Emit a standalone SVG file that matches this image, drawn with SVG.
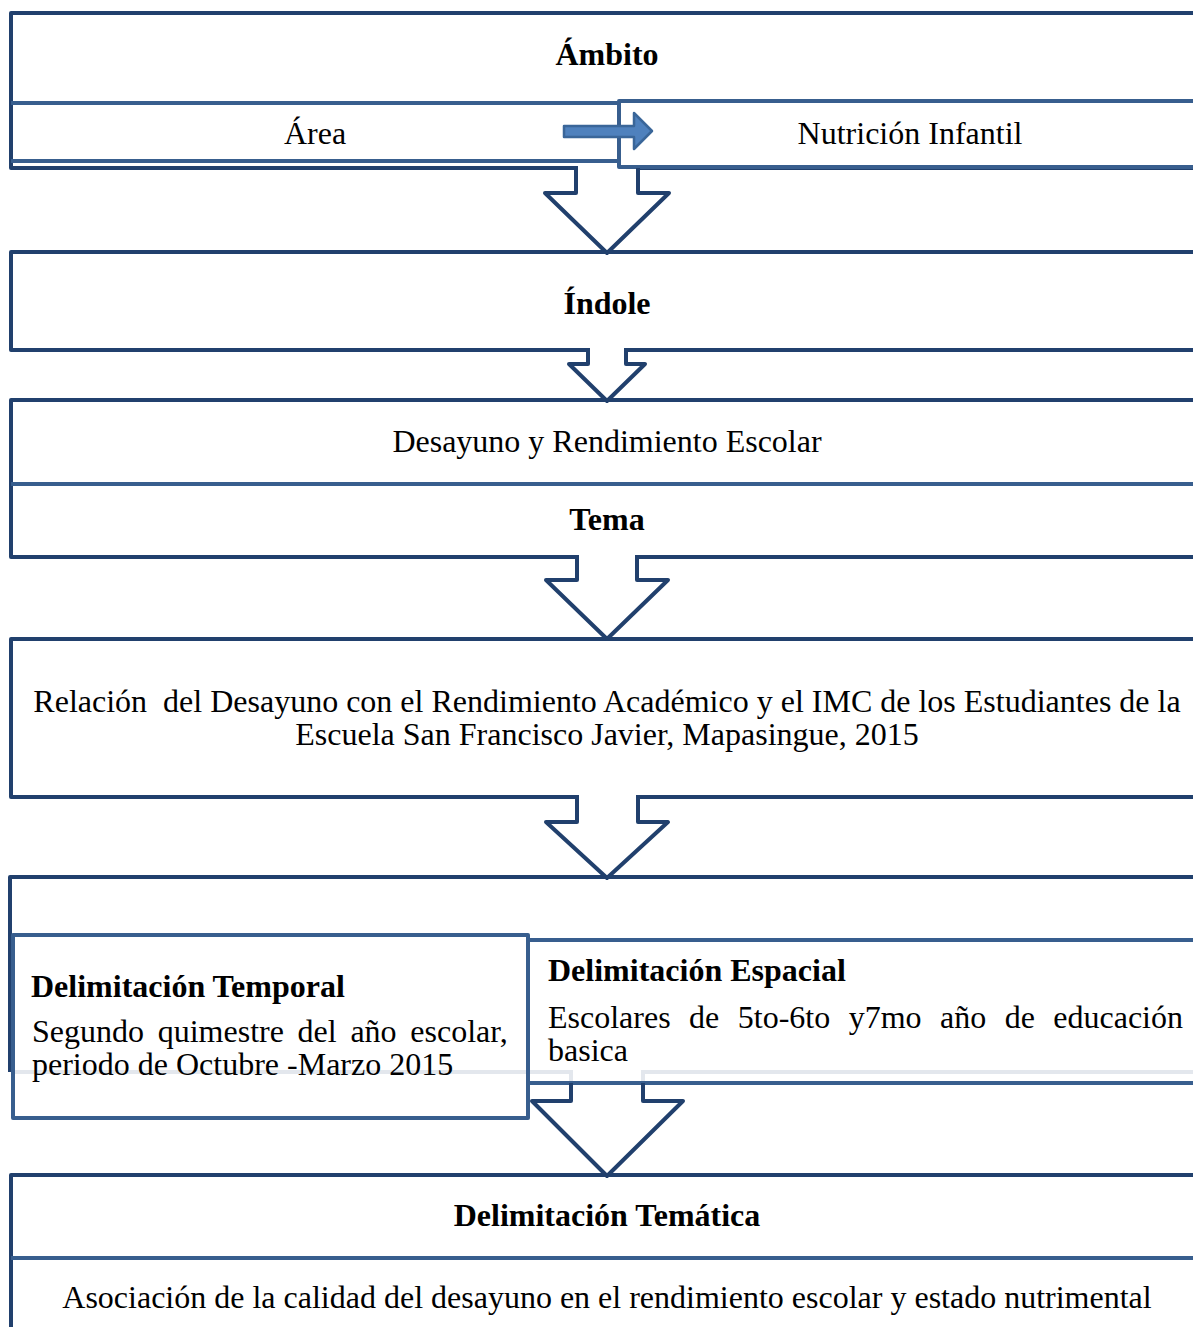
<svg xmlns="http://www.w3.org/2000/svg" width="1193" height="1327" viewBox="0 0 1193 1327">
<style>
.bx{fill:none;stroke:#21406d;stroke-width:4;stroke-linejoin:round;stroke-linecap:square}
.md{fill:none;stroke:#385e8e;stroke-width:4;stroke-linejoin:round}
.ar{fill:none;stroke:#21406d;stroke-width:4;stroke-linejoin:round}
.gh{fill:none;stroke:#e3e7ed;stroke-width:4}
text{font-family:"Liberation Serif","Times New Roman",serif;font-size:32px;fill:#000}
.b{font-weight:bold}
.c{text-anchor:middle}
</style>
<rect width="1193" height="1327" fill="#fff"/>
<g id="ambito">
<path class="bx" d="M1210,13 H11 V168 H576 M638,168 H1210"/>
<path class="md" d="M11,103 H619 M11,161 H619"/>
<rect class="md" x="619" y="101" width="600" height="66"/>
<text class="b c" x="607" y="65">Ámbito</text>
<text class="c" x="315" y="144">Área</text>
<text class="c" x="910" y="144">Nutrición Infantil</text>
</g>
<g id="indole">
<path class="bx" d="M1210,252 H11 V350 H588 M626,350 H1210"/>
<text class="b c" x="607" y="314">Índole</text>
</g>
<g id="desayuno">
<path class="bx" d="M1210,400 H11 V557 H577 M637,557 H1210"/>
<path class="md" d="M11,484 H1210"/>
<text class="c" x="607" y="452">Desayuno y Rendimiento Escolar</text>
<text class="b c" x="607" y="530">Tema</text>
</g>
<g id="relacion">
<path class="bx" d="M1210,639 H11 V797 H577 M638,797 H1210"/>
<text class="c" x="607" y="712" xml:space="preserve">Relación  del Desayuno con el Rendimiento Académico y el IMC de los Estudiantes de la</text>
<text class="c" x="607" y="745">Escuela San Francisco Javier, Mapasingue, 2015</text>
</g>
<g id="delimitacion">
<path class="bx" d="M1210,877 H10 V1070"/>
<path class="gh" d="M12,1072 H571 V1083 M643,1083 V1072 H1210"/>
</g>
<g id="temporal">
<rect class="md" x="13" y="935" width="515" height="183"/>
<text class="b" x="31" y="997">Delimitación Temporal</text>
<text y="1042"><tspan x="32">Segundo</tspan><tspan x="157.7">quimestre</tspan><tspan x="297.6">del</tspan><tspan x="350.4">año</tspan><tspan x="410.3">escolar,</tspan></text>
<text x="32" y="1075">periodo de Octubre -Marzo 2015</text>
</g>
<g id="espacial">
<path class="md" d="M528,940 H1210 M528,1083 H1210"/>
<text class="b" x="548" y="981">Delimitación Espacial</text>
<text y="1028"><tspan x="548">Escolares</tspan><tspan x="689.1">de</tspan><tspan x="737.8">5to-6to</tspan><tspan x="848.7">y7mo</tspan><tspan x="940.1">año</tspan><tspan x="1004.8">de</tspan><tspan x="1183" text-anchor="end">educación</tspan></text>
<text x="548" y="1061">basica</text>
</g>
<g id="tematica">
<path class="bx" d="M1210,1175 H11 V1335"/>
<path class="md" d="M11,1258 H1210"/>
<text class="b c" x="607" y="1226">Delimitación Temática</text>
<text class="c" x="607" y="1308">Asociación de la calidad del desayuno en el rendimiento escolar y estado nutrimental</text>
</g>
<g id="connectors">
<path d="M564,126 H634 V113 L652,131 L634,149 V137 H564 Z" fill="#4f81bd" stroke="#3a6699" stroke-width="2.5" stroke-linejoin="round"/>
<path class="ar" d="M576,168 V193 H545 L607,253 L669,193 H638 V168"/>
<path class="ar" d="M588,350 V364 H569 L607,401 L645,364 H626 V350"/>
<path class="ar" d="M577,557 V580 H546 L607,639 L668,580 H637 V557"/>
<path class="ar" d="M577,797 V822 H546 L607,878 L668,822 H638 V797"/>
<path class="ar" d="M571,1083 V1101 H532 L607,1176 L683,1101 H643 V1083"/>
</g>
</svg>
